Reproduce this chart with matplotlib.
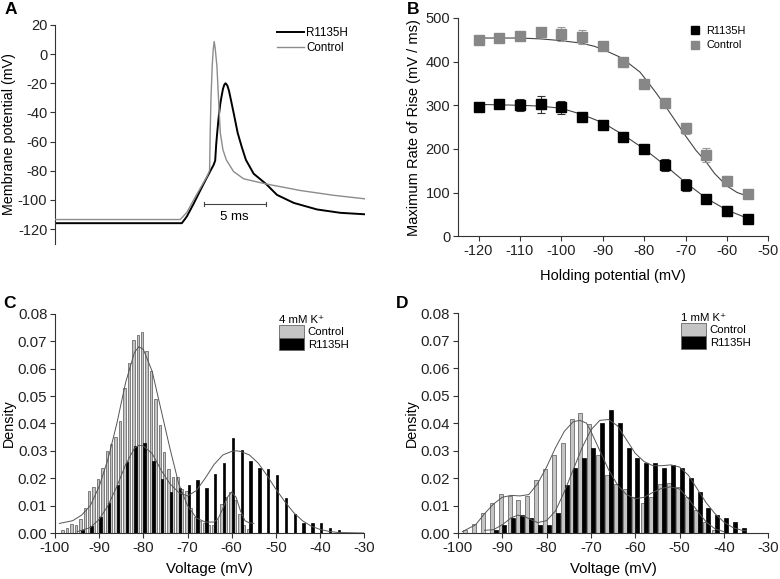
import matplotlib.pyplot as plt
from matplotlib.patches import Patch
import numpy as np

plt.rcParams['font.family'] = ['Liberation Sans', 'DejaVu Sans']
plt.rcParams['axes.unicode_minus'] = False

# ---- panel A: action potentials (ms, mV)
ctrl_t = [0.0, 10.03, 10.56, 11.10, 11.63, 12.17, 12.38, 12.43, 12.49, 12.59, 12.67,
          12.75, 12.83, 12.97, 13.10, 13.24, 13.45, 13.72, 14.30, 15.11, 16.90,
          19.65, 22.33, 24.81]
ctrl_v = [-113.4, -113.4, -108.5, -100.0, -92.0, -84.0, -79.8, -54.0, -31.0, -8.5, 3.0,
          8.6, 4.0, -8.5, -31.0, -54.0, -65.6, -72.5, -80.5, -85.5, -89.0,
          -93.5, -96.8, -99.2]
mut_t = [0.0, 10.16, 10.56, 11.10, 11.63, 12.17, 12.70, 12.83, 12.91, 12.99, 13.10,
         13.24, 13.34, 13.45, 13.56, 13.66, 13.80, 13.93, 14.09, 14.30, 14.63,
         14.97, 15.29, 15.91, 16.90, 17.78, 19.12, 20.99, 22.86, 24.81]
mut_v = [-115.9, -115.9, -111.3, -102.6, -93.5, -84.5, -76.0, -73.0, -62.0, -54.0, -44.0,
         -34.0, -29.0, -24.0, -21.0, -20.0, -21.5, -25.0, -31.4, -40.0, -54.0,
         -64.0, -72.5, -82.0, -89.0, -96.5, -102.0, -106.5, -108.8, -109.8]

# ---- panel B: max rate of rise vs holding potential
hold_mv = [-120, -115, -110, -105, -100, -95, -90, -85, -80, -75, -70, -65, -60, -55]
ctrl_rate = [449, 455, 458, 468, 463, 457, 435, 398, 348, 306, 247, 186, 127, 97]
ctrl_err = [4, 4, 8, 8, 16, 16, 5, 5, 5, 5, 13, 17, 12, 6]
mut_rate = [297, 302, 300, 302, 295, 272, 255, 228, 199, 163, 117, 85, 58, 40]
mut_err = [5, 4, 14, 20, 14, 5, 5, 5, 8, 14, 13, 4, 12, 3]
ctrl_fit_x = [-120, -110, -105, -100, -95, -92, -90, -86, -84, -81, -79, -77, -75, -72,
              -70, -67.5, -65, -63, -60, -57.5, -55]
ctrl_fit_y = [454, 454, 452, 448, 442, 435, 428, 411, 398, 376, 352, 327, 300, 258,
              230, 197, 170, 144, 115, 100, 92]
mut_fit_x = [-120, -110, -105, -100, -95, -90, -85, -80, -75, -70, -65, -60, -55]
mut_fit_y = [302, 300, 298, 293, 279, 260, 232, 200, 163, 123, 87, 60, 41]

# ---- panel C: 4 mM K+ histograms
c_ctrl_mv = list(range(-98, -55))
c_ctrl = [0.001, 0.002, 0.0033, 0.003, 0.005, 0.009, 0.0155, 0.0167, 0.0197, 0.0236,
          0.030, 0.0324, 0.035, 0.041, 0.053, 0.062, 0.0705, 0.0723, 0.0735, 0.0666,
          0.059, 0.049, 0.0395, 0.0295, 0.0233, 0.0203, 0.0206, 0.016, 0.0155, 0.009,
          0.006, 0.0045, 0.0035, 0.003, 0.003, 0.005, 0.0105, 0.013, 0.015, 0.012,
          0.007, 0.003, 0.0015]
c_mut_mv = list(range(-94, -35, 2))
c_mut = [0.001, 0.0025, 0.006, 0.011, 0.0175, 0.0258, 0.0318, 0.033, 0.0263, 0.0196,
         0.0148, 0.0163, 0.0176, 0.0194, 0.0163, 0.0216, 0.0257, 0.0346, 0.0304, 0.0262,
         0.0237, 0.0234, 0.021, 0.0127, 0.0068, 0.0038, 0.0038, 0.0038, 0.002, 0.001]
c_ctrl_fit_x = [-99, -96, -94, -92, -90, -88, -86, -84, -82, -81, -80, -78, -76, -74,
                -72, -70, -68, -66, -64, -63, -62, -61, -60, -59, -58, -57, -56, -55]
c_ctrl_fit_y = [0.0035, 0.0045, 0.0065, 0.010, 0.017, 0.027, 0.040, 0.055, 0.066, 0.068,
                0.067, 0.059, 0.045, 0.031, 0.018, 0.010, 0.0055, 0.004, 0.004, 0.0055,
                0.009, 0.013, 0.015, 0.013, 0.008, 0.0045, 0.0037, 0.0035]
c_mut_fit_x = [-95, -92, -90, -88, -86, -84, -82, -81, -80, -78, -76, -74, -72, -70,
               -68, -66, -64, -62, -60, -59, -58, -56, -54, -52, -50, -48, -46, -44,
               -42, -40, -38, -36, -33, -30]
c_mut_fit_y = [0.0005, 0.002, 0.005, 0.010, 0.017, 0.025, 0.031, 0.032, 0.0318, 0.029,
               0.023, 0.018, 0.0148, 0.0135, 0.0155, 0.020, 0.025, 0.0285, 0.0298, 0.030,
               0.0298, 0.0285, 0.0255, 0.021, 0.016, 0.0115, 0.0075, 0.0045, 0.0025,
               0.0013, 0.0006, 0.0002, 0.0001, 0.0]

# ---- panel D: 1 mM K+ histograms
d_ctrl_mv = list(range(-98, -41, 2))
d_ctrl = [0.001, 0.0032, 0.0074, 0.011, 0.0142, 0.0135, 0.0122, 0.0135, 0.0193, 0.0232,
          0.0284, 0.0326, 0.0416, 0.0436, 0.0396, 0.0284, 0.0212, 0.018, 0.016, 0.0132,
          0.0108, 0.0132, 0.0177, 0.0183, 0.0169, 0.0132, 0.0084, 0.0041, 0.001]
d_mut_mv = list(range(-92, -35, 2))
d_mut = [0.001, 0.0028, 0.0055, 0.0065, 0.0055, 0.0028, 0.0028, 0.0074, 0.0174, 0.0238,
         0.0274, 0.031, 0.0401, 0.0447, 0.0401, 0.0311, 0.0274, 0.0256, 0.0256, 0.0238,
         0.0248, 0.0238, 0.020, 0.0148, 0.0092, 0.0064, 0.0056, 0.0039, 0.0019]
d_ctrl_fit_x = [-99, -96, -94, -92, -90, -88, -86, -84, -82, -80, -78, -76, -74, -72.5,
                -71, -70, -68, -66, -64, -62, -60, -58, -56, -54, -52, -50, -48, -46,
                -44, -42, -40]
d_ctrl_fit_y = [0.0005, 0.003, 0.007, 0.0105, 0.013, 0.0137, 0.0135, 0.014, 0.018, 0.024,
                0.031, 0.037, 0.0405, 0.041, 0.040, 0.037, 0.030, 0.023, 0.0175, 0.014,
                0.0125, 0.013, 0.0148, 0.0163, 0.0168, 0.016, 0.0125, 0.008, 0.004,
                0.0015, 0.0005]
d_mut_fit_x = [-94, -92, -90, -88, -86.5, -85, -83, -82, -80, -78, -76, -74, -72, -70,
               -68, -66, -64, -62, -60, -58, -56, -54, -52, -50, -48, -46, -44, -42,
               -40, -38, -36, -35]
d_mut_fit_y = [0.001, 0.0012, 0.003, 0.0055, 0.0065, 0.006, 0.0045, 0.0038, 0.0045, 0.008,
               0.015, 0.023, 0.031, 0.0375, 0.041, 0.0413, 0.039, 0.034, 0.029, 0.026,
               0.0245, 0.0245, 0.0248, 0.024, 0.021, 0.016, 0.011, 0.007, 0.004, 0.002,
               0.001, 0.0008]

GRAY_BAR = '#c4c4c4'
EDGE = '#555555'
FIT = '#555555'
SPINE = '#333333'


def style_axes(ax, bottom=True, labelsize=10.5):
    ax.spines['top'].set_visible(False)
    ax.spines['right'].set_visible(False)
    ax.spines['left'].set_color(SPINE)
    ax.spines['left'].set_linewidth(0.8)
    if bottom:
        ax.spines['bottom'].set_color(SPINE)
        ax.spines['bottom'].set_linewidth(0.8)
    else:
        ax.spines['bottom'].set_visible(False)
        ax.set_xticks([])
    ax.tick_params(direction='out', length=3.5, width=0.8, color=SPINE,
                   labelsize=labelsize, labelcolor='#222222', pad=2)


fig = plt.figure(figsize=(7.8, 5.79), dpi=100)

# ---------------- A
axA = fig.add_axes([0.0705, 0.579, 0.397, 0.378])
axA.plot(ctrl_t, ctrl_v, color='#8c8c8c', lw=1.0, label='Control', zorder=3)
axA.plot(mut_t, mut_v, color='black', lw=1.4, label='R1135H', zorder=2)
axA.set_xlim(0, 24.8)
axA.set_ylim(-130, 20)
axA.set_yticks([20, 0, -20, -40, -60, -80, -100, -120])
axA.set_ylabel('Membrane potential (mV)', fontsize=10.3, labelpad=1)
style_axes(axA, bottom=False, labelsize=10.5)
# 5 ms scale bar
bar_t0, bar_t1, bar_v = 11.9, 16.9, -102.6
axA.plot([bar_t0, bar_t1], [bar_v, bar_v], color='#444444', lw=0.8)
axA.plot([bar_t0, bar_t0], [bar_v - 1.3, bar_v + 1.3], color='#444444', lw=0.8)
axA.plot([bar_t1, bar_t1], [bar_v - 1.3, bar_v + 1.3], color='#444444', lw=0.8)
axA.text((bar_t0 + bar_t1) / 2, bar_v - 9, '5 ms', ha='center', va='center', fontsize=9.5)
hA, lA = axA.get_legend_handles_labels()
axA.legend(hA[::-1], lA[::-1], loc='upper left', bbox_to_anchor=(0.716, 0.99), frameon=False,
           fontsize=8.4, handlelength=2.3, handletextpad=0.25, labelspacing=0.25,
           borderpad=0, borderaxespad=0)

# ---------------- B
axB = fig.add_axes([0.587, 0.592, 0.398, 0.377])
axB.plot(ctrl_fit_x, ctrl_fit_y, color='#444444', lw=0.8, zorder=2)
axB.plot(mut_fit_x, mut_fit_y, color='#444444', lw=0.8, zorder=2)
axB.errorbar(hold_mv, mut_rate, yerr=mut_err, fmt='s', color='black', ecolor='#333333',
             elinewidth=0.8, capsize=3, capthick=0.8, markersize=7, label='R1135H', zorder=3)
axB.errorbar(hold_mv, ctrl_rate, yerr=ctrl_err, fmt='s', color='#878787', ecolor='#999999',
             elinewidth=0.8, capsize=3, capthick=0.8, markersize=7, label='Control', zorder=3)
axB.set_xlim(-125, -50)
axB.set_ylim(0, 500)
axB.set_xticks(range(-120, -49, 10))
axB.set_yticks(range(0, 501, 100))
axB.set_xlabel('Holding potential (mV)', fontsize=10.5, labelpad=8)
axB.set_ylabel('Maximum Rate of Rise (mV / ms)', fontsize=10.5, labelpad=3)
style_axes(axB, labelsize=10.5)
hB, lB = axB.get_legend_handles_labels()
hB = [h[0] for h in hB]
axB.legend(hB, lB, loc='upper left', bbox_to_anchor=(0.745, 0.963), frameon=False,
           fontsize=7.8, handlelength=1.0, handletextpad=0.6, labelspacing=0.4,
           borderpad=0, borderaxespad=0, numpoints=1, markerscale=0.8)


def histogram_panel(ax, ctrl_mv, ctrl, mut_mv, mut, cfx, cfy, mfx, mfy,
                    c_off, m_off, width, title, anchor):
    ax.bar(np.array(ctrl_mv) + c_off, ctrl, width=width, color=GRAY_BAR,
           edgecolor=EDGE, linewidth=0.5, zorder=2)
    ax.bar(np.array(mut_mv) + m_off, mut, width=width, color='black',
           edgecolor='black', linewidth=0.5, zorder=3)
    ax.plot(cfx, cfy, color=FIT, lw=0.7, zorder=4)
    ax.plot(mfx, mfy, color=FIT, lw=0.7, zorder=4)
    ax.set_xlim(-100, -30)
    ax.set_ylim(0, 0.08)
    ax.set_xticks(range(-100, -29, 10))
    ax.set_yticks(np.arange(0, 0.081, 0.01))
    ax.set_yticklabels(['%.2f' % v for v in np.arange(0, 0.081, 0.01)])
    ax.set_xlabel('Voltage (mV)', fontsize=10.8, labelpad=5)
    ax.set_ylabel('Density', fontsize=10.3, labelpad=1)
    style_axes(ax, labelsize=10.8)
    handles = [Patch(facecolor=GRAY_BAR, edgecolor='#666666', linewidth=0.6),
               Patch(facecolor='black', edgecolor='#666666', linewidth=0.6)]
    ax.legend(handles, ['Control', 'R1135H'], title=title, loc='upper left',
              bbox_to_anchor=anchor, frameon=False, fontsize=8.2, title_fontsize=8.2,
              handlelength=2.2, handleheight=1.35, labelspacing=0, handletextpad=0.3,
              borderpad=0, borderaxespad=0, alignment='left')


# ---------------- C
axC = fig.add_axes([0.0705, 0.0794, 0.3965, 0.3786])
histogram_panel(axC, c_ctrl_mv, c_ctrl, c_mut_mv, c_mut, c_ctrl_fit_x, c_ctrl_fit_y,
                c_mut_fit_x, c_mut_fit_y, -0.27, 0.27, 0.55, '4 mM K\u207a', (0.725, 0.995))

# ---------------- D
axD = fig.add_axes([0.587, 0.0794, 0.398, 0.3797])
histogram_panel(axD, d_ctrl_mv, d_ctrl, d_mut_mv, d_mut, d_ctrl_fit_x, d_ctrl_fit_y,
                d_mut_fit_x, d_mut_fit_y, -0.35, 0.5, 0.9, '1 mM K\u207a', (0.72, 1.0))

for letter, x, y in [('A', 0.006, 0.983), ('B', 0.522, 0.983), ('C', 0.004, 0.476), ('D', 0.508, 0.476)]:
    fig.text(x, y, letter, fontsize=12.5, fontweight='bold', va='center', ha='left')

fig.savefig('out.png', dpi=100)
